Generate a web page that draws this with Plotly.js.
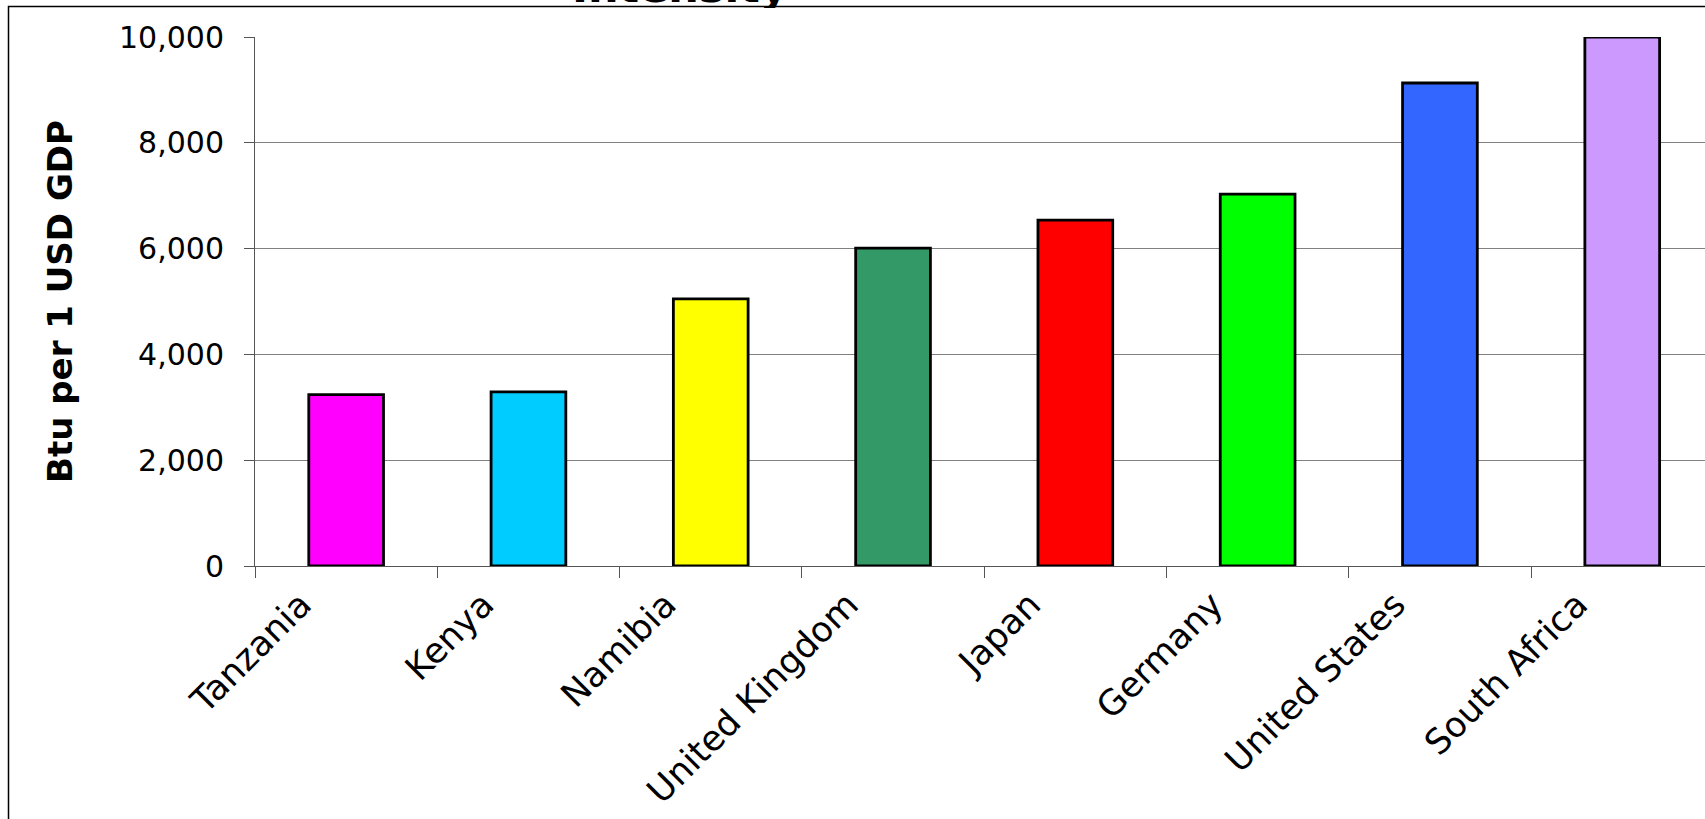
<!DOCTYPE html>
<html>
<head>
<meta charset="utf-8">
<script src="https://cdn.plot.ly/plotly-3.0.1.min.js"></script>
<style>
  html, body { margin: 0; padding: 0; background: #fff; }
  #chart { width: 1705px; height: 819px; }
</style>
</head>
<body>
<div id="chart"></div>
<script>
// Data
const countries = ["Tanzania", "Kenya", "Namibia", "United Kingdom", "Japan", "Germany", "United States", "South Africa"];
const btuPerUsd = [3240, 3290, 5050, 6010, 6540, 7030, 9130, 10000];
const barColors = ["#FF00FF", "#00CCFF", "#FFFF00", "#339966", "#FF0000", "#00FF00", "#3366FF", "#CC99FF"];
const yTickValues = [0, 2000, 4000, 6000, 8000, 10000];
const titleText = "Intensity";
const yTitleText = "Btu per 1 USD GDP";

const PLOT_TOP = 37, PLOT_H = 529, PLOT_L = 255, PLOT_W = 1450;
const pyFromTop = px => (PLOT_TOP + PLOT_H - px) / PLOT_H;   // paper y for a pixel row
const pxFromLeft = px => (px - PLOT_L) / PLOT_W;            // paper x for a pixel column

const trace = {
  type: "bar",
  x: countries,
  y: btuPerUsd,
  marker: { color: barColors, line: { color: "#000000", width: 2.8 } },
  hoverinfo: "x+y"
};

const layout = {
  width: 1705,
  height: 819,
  margin: { l: PLOT_L, r: 0, t: PLOT_TOP, b: 819 - PLOT_TOP - PLOT_H, pad: 0 },
  paper_bgcolor: "#ffffff",
  plot_bgcolor: "#ffffff",
  showlegend: false,
  bargap: 0.59,
  annotations: [
    {
      text: "<b>" + titleText + "</b>",
      font: { family: "DejaVu Sans", size: 43, color: "#000" },
      xref: "paper", yref: "paper",
      x: pxFromLeft(680), xanchor: "center",
      y: pyFromTop(14.5), yanchor: "bottom",
      showarrow: false
    },
    {
      // chart-area fill that hides the lower part of the title, as in the reference
      text: " ",
      xref: "paper", yref: "paper",
      x: pxFromLeft(680), xanchor: "center",
      y: pyFromTop(7.5), yanchor: "top",
      width: 300, height: 20,
      bgcolor: "#ffffff", borderwidth: 0, borderpad: 0,
      showarrow: false
    }
  ],
  xaxis: {
    type: "category",
    range: [-0.5, 7.454],
    showgrid: false,
    showline: true,
    linecolor: "#555555",
    linewidth: 1,
    ticks: "outside",
    tickson: "boundaries",
    ticklen: 11,
    tickcolor: "#555555",
    tickangle: -45,
    ticklabelshift: -45,
    ticklabelstandoff: 3,
    tickfont: { family: "DejaVu Sans", size: 35, color: "#000" },
    automargin: false,
    fixedrange: true
  },
  yaxis: {
    range: [0, 10000],
    tickvals: yTickValues,
    tickformat: ",d",
    showgrid: true,
    gridcolor: "#808080",
    gridwidth: 1,
    zeroline: false,
    showline: true,
    linecolor: "#555555",
    linewidth: 1,
    ticks: "outside",
    ticklen: 10,
    tickcolor: "#555555",
    ticklabelstandoff: 14,
    tickfont: { family: "DejaVu Sans", size: 30, color: "#000" },
    title: {
      text: "<b>" + yTitleText + "</b>",
      font: { family: "DejaVu Sans", size: 34, color: "#000" },
      standoff: 36
    },
    automargin: false,
    fixedrange: true
  },
  shapes: [
    {
      type: "rect",
      xref: "paper", yref: "paper",
      x0: pxFromLeft(8.5), x1: 1.1,
      y0: -0.7, y1: pyFromTop(6.5),
      line: { color: "#000000", width: 1.5 },
      fillcolor: "rgba(0,0,0,0)",
      layer: "below"
    }
  ]
};

Plotly.newPlot("chart", [trace], layout, { displayModeBar: false, staticPlot: true });
</script>
</body>
</html>
